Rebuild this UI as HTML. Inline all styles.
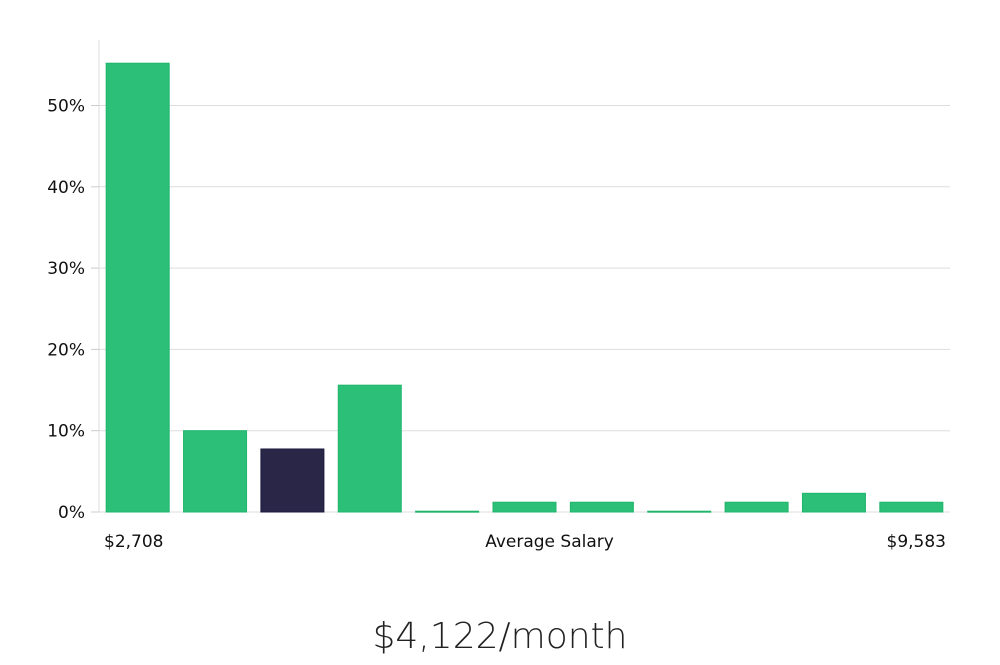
<!DOCTYPE html>
<html><head><meta charset="utf-8"><style>
body{margin:0;background:#fff;width:1000px;height:660px;overflow:hidden}
text{font-family:"DejaVu Sans","Liberation Sans",sans-serif}
</style></head><body>
<svg id="chart" width="1000" height="660" xmlns="http://www.w3.org/2000/svg">
<g id="grid"></g><g id="bars"></g><g id="labels"></g>
<text x="500" y="648" text-anchor="middle" font-size="36" font-weight="300" fill="#222">$4,122/month</text>
</svg>
<script>
const categories=["b1","b2","b3","b4","b5","b6","b7","b8","b9","b10","b11"];
const values=[55.2,10,7.75,15.6,0.1,1.2,1.2,0.1,1.2,2.3,1.2];
const highlightIndex=2;
const yTicks=[0,10,20,30,40,50];
const xLabels=["$2,708","Average Salary","$9,583"];
const ns="http://www.w3.org/2000/svg";
const x0=99,x1=950,y0=512,pxPer=8.13;
const band=(x1-x0)/categories.length,bw=63;
const y=v=>y0-v*pxPer;
const xb=i=>x0+i*band+(band-bw)/2;
function mk(t,a,p){const e=document.createElementNS(ns,t);for(const k in a)e.setAttribute(k,a[k]);p.appendChild(e);return e;}
const grid=document.getElementById('grid'),bars=document.getElementById('bars'),lab=document.getElementById('labels');
const ax=mk('line',{x1:x0,x2:x0,y1:40,y2:y0,stroke:'#ddd'},grid);


yTicks.forEach(t=>{
 if(t>0){const g=mk('line',{x1:x0,x2:x1,y1:y(t),y2:y(t),stroke:'#ddd'},grid);
 
 }
 const tk=mk('line',{x1:x0-8,x2:x0,y1:y(t),y2:y(t),stroke:'#ccc'},grid);
 
 
 const tx=mk('text',{x:x0-14,y:y(t)+6,'text-anchor':'end','font-size':17,fill:'#111'},lab);
 tx.textContent=t+'%';
 
 
});
const base=mk('line',{x1:x0,x2:x1,y1:y0,y2:y0,stroke:'#ddd'},grid);


values.forEach((v,i)=>{
 const hi=i===highlightIndex;
 const r=mk('rect',{x:xb(i),y:y(v),width:bw,height:Math.max(1,v*pxPer),fill:hi?'#2a2648':'#2bbf78',stroke:hi?'#1e1a3e':'#20b56c','stroke-width':1},bars);
 
 
});
const pos=[[104,'start'],[(x0+x1)/2+25,'middle'],[946,'end']];
xLabels.forEach((s,i)=>{
 const t=mk('text',{x:pos[i][0],y:547,'text-anchor':pos[i][1],'font-size':17,fill:'#111'},lab);
 t.textContent=s;
 
 
});
</script>
</body></html>
